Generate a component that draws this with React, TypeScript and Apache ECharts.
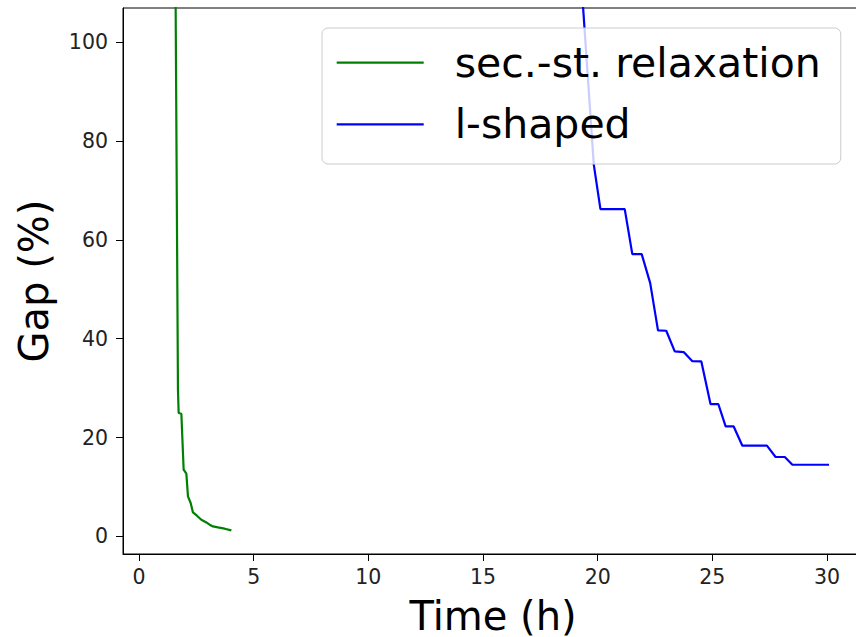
import React, { useEffect, useRef } from "react";
import * as echarts from "echarts";

// Data
const relaxTime = [1.57, 1.596, 1.697, 1.727, 1.845, 1.945, 2.063, 2.133, 2.25, 2.351, 2.525, 2.717, 2.935, 3.079, 3.223, 3.441, 3.733, 4.025];
const relaxGap = [125, 106.9, 29.67, 24.96, 24.82, 13.49, 12.68, 8.09, 6.76, 4.85, 4.19, 3.38, 2.83, 2.37, 2.02, 1.82, 1.56, 1.21];

const lshapedTime = [19.1, 19.83, 20.12, 21.18, 21.51, 21.92, 22.29, 22.63, 22.99, 23.36, 23.75, 24.13, 24.52, 24.92, 25.26, 25.58, 25.93, 26.31, 27.38, 27.76, 28.16, 28.49, 30.09];
const lshapedGap = [125, 75.2, 66.2, 66.2, 57.1, 57.1, 51.25, 41.67, 41.6, 37.42, 37.3, 35.44, 35.4, 26.78, 26.78, 22.25, 22.25, 18.35, 18.35, 16.06, 16.06, 14.5, 14.5];

const xTicks = [0, 5, 10, 15, 20, 25, 30];
const yTicks = [0, 20, 40, 60, 80, 100];

const seriesNames = ["sec.-st. relaxation", "l-shaped"];
const seriesColors = ["#008000", "#0000ff"];

const FONT = "DejaVu Sans";

function zip(a: number[], b: number[]) {
  return a.map((v, i) => [v, b[i]]);
}

export default function App() {
  const ref = useRef<HTMLDivElement>(null);
  useEffect(() => {
    if (!ref.current) return;
    const chart = echarts.init(ref.current, undefined, { renderer: "svg" });
    chart.setOption({
      animation: false,
      backgroundColor: "#ffffff",
      grid: {
        left: 123,
        top: 8,
        right: -7,
        bottom: 83,
        outerBoundsMode: "none",
        containLabel: false,
        show: true,
        borderColor: "#000",
        borderWidth: 1,
        backgroundColor: "transparent",
      },
      legend: {
        orient: "vertical",
        left: 322,
        top: 28,
        padding: [10.7, 20, 15.7, 14.7],
        itemWidth: 87,
        itemHeight: 2.2,
        itemGap: 13.6,
        icon: "rect",
        backgroundColor: "rgba(255,255,255,0.8)",
        borderColor: "#cccccc",
        borderWidth: 1,
        borderRadius: 6,
        textStyle: {
          fontSize: 41,
          fontFamily: FONT,
          color: "#000",
          lineHeight: 48,
          padding: [0, 0, 0, 26],
        },
        data: seriesNames,
      },
      xAxis: {
        type: "value",
        min: -0.7,
        max: 31.57,
        name: "Time (h)",
        nameLocation: "middle",
        nameGap: 42,
        nameTextStyle: { fontSize: 40, fontFamily: FONT, color: "#000" },
        axisLine: { show: true, onZero: false, lineStyle: { color: "#000", width: 1 } },
        axisTick: { show: true, length: 7, customValues: xTicks, lineStyle: { color: "#000", width: 1 } },
        axisLabel: { customValues: xTicks, fontSize: 20.5, fontFamily: FONT, color: "#222", margin: 12 },
        splitLine: { show: false },
      },
      yAxis: {
        type: "value",
        min: -3.56,
        max: 106.9,
        name: "Gap (%)",
        nameLocation: "middle",
        nameGap: 69,
        nameTextStyle: { fontSize: 40, fontFamily: FONT, color: "#000" },
        axisLine: { show: true, onZero: false, lineStyle: { color: "#000", width: 1 } },
        axisTick: { show: true, length: 7, customValues: yTicks, lineStyle: { color: "#000", width: 1 } },
        axisLabel: { customValues: yTicks, fontSize: 20.5, fontFamily: FONT, color: "#222", margin: 15 },
        splitLine: { show: false },
      },
      series: [
        {
          name: seriesNames[0],
          type: "line",
          data: zip(relaxTime, relaxGap),
          symbol: "none",
          color: seriesColors[0],
          lineStyle: { color: seriesColors[0], width: 2.2 },
          clip: true,
        },
        {
          name: seriesNames[1],
          type: "line",
          data: zip(lshapedTime, lshapedGap),
          symbol: "none",
          color: seriesColors[1],
          lineStyle: { color: seriesColors[1], width: 2.2 },
          clip: true,
        },
      ],
    });
    return () => chart.dispose();
  }, []);
  return (
    <div
      ref={ref}
      style={{ position: "absolute", left: 0, top: 0, width: 856, height: 637 }}
    />
  );
}
